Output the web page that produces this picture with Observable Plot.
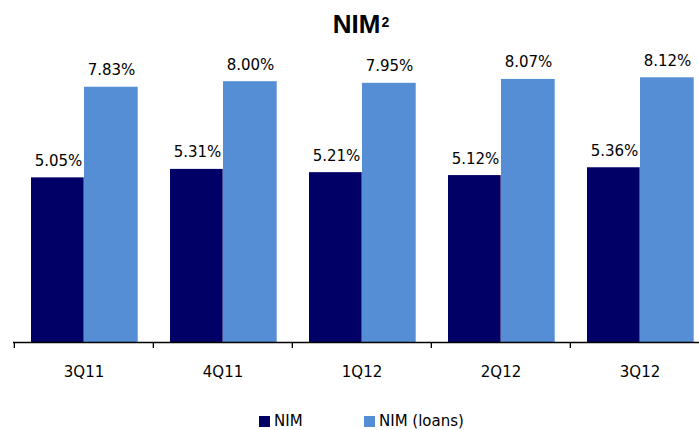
<!DOCTYPE html>
<html><head><meta charset="utf-8">
<script src="https://cdn.jsdelivr.net/npm/d3@7"></script>
<script src="https://cdn.jsdelivr.net/npm/@observablehq/plot@0.6"></script>
<style>
body{margin:0;background:#fff;width:699px;height:430px;position:relative;overflow:hidden;font-family:"DejaVu Sans",sans-serif}
#title{position:absolute;top:11px;left:13px;width:696px;text-align:center;font:bold 26px "Liberation Sans",Arial,sans-serif;line-height:26px;color:#000}
#title sup{font-size:14px;vertical-align:top;position:relative;top:-2px;margin-left:1px}
#chart{position:absolute;top:40px;left:0}
.leg{position:absolute;top:411px;font-size:15px;line-height:20px;color:#000;display:flex;align-items:center;white-space:nowrap}
.leg span.sw{display:inline-block;width:11px;height:11px;margin-right:4px}
</style></head>
<body>
<div id="title">NIM<sup>2</sup></div>
<div id="chart"></div>
<div class="leg" id="leg1" style="left:259px"></div>
<div class="leg" id="leg2" style="left:364px"></div>
<script>
const quarters = ["3Q11", "4Q11", "1Q12", "2Q12", "3Q12"];
const nim = [5.05, 5.31, 5.21, 5.12, 5.36];
const nimLoans = [7.83, 8.00, 7.95, 8.07, 8.12];
const seriesNames = ["NIM", "NIM (loans)"];
const colors = ["#000066", "#558ED5"];

const dark = quarters.map((q, i) => ({q, v: nim[i]}));
const light = quarters.map((q, i) => ({q, v: nimLoans[i]}));
const fmt = v => v.toFixed(2) + "%";

const W = 699, H = 350, ML = 13;
const band = (709.5 - ML) / quarters.length;

const plot = Plot.plot({
  width: W, height: H,
  marginLeft: ML, marginRight: 0, marginTop: 10, marginBottom: 48,
  style: {fontFamily: "DejaVu Sans, sans-serif", fontSize: "15px", color: "#000", background: "#fff"},
  x: {domain: quarters, range: [ML, 709.5], padding: 0, axis: null, label: null},
  y: {domain: [0, 8.957], axis: null},
  marks: [
    Plot.barY(dark, {x: "q", y: "v", fill: colors[0], insetLeft: 17, insetRight: band - 70}),
    Plot.barY(light, {x: "q", y: "v", fill: colors[1], insetLeft: 70, insetRight: band - 124}),
    Plot.text(dark, {x: "q", y: "v", text: d => fmt(d.v), dx: -25.5, dy: -12, lineAnchor: "bottom", fontSize: 15, fill: "#000"}),
    Plot.text(light, {x: "q", y: "v", text: d => fmt(d.v), dx: 27.5, dy: -12, lineAnchor: "bottom", fontSize: 15, fill: "#000"}),
    Plot.ruleY([0], {stroke: "#000", strokeWidth: 1.3}),
    Plot.axisX(quarters, {tickSize: 6, tickFormat: () => "", label: null, dx: -band / 2, stroke: "#000", strokeWidth: 1.3}),
    Plot.axisX(quarters, {tickSize: 0, tickPadding: 24, label: null, fontSize: 15, fill: "#000"})
  ]
});
document.getElementById("chart").appendChild(plot);

[["leg1", 0], ["leg2", 1]].forEach(([id, i]) => {
  const el = document.getElementById(id);
  el.innerHTML = `<span class="sw" style="background:${colors[i]}"></span>${seriesNames[i]}`;
});
</script>
</body></html>
